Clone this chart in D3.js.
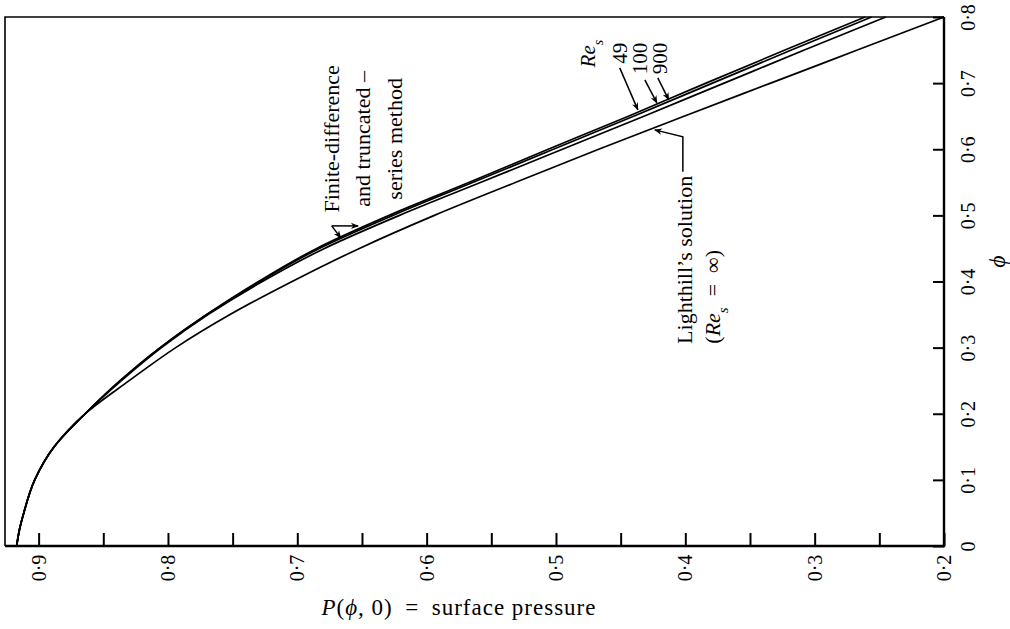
<!DOCTYPE html>
<html>
<head>
<meta charset="utf-8">
<script src="https://cdn.jsdelivr.net/npm/d3@7"></script>
<style>
  body { margin: 0; background: #fff; }
  text { font-family: "Liberation Serif", "DejaVu Serif", serif; fill: #000; }
</style>
</head>
<body>
<svg id="chart"></svg>
<script>
// phi values (right axis) and surface pressure P(phi, 0) for each curve
const phi        = [0, 0.025, 0.05, 0.1, 0.15, 0.2, 0.25, 0.3, 0.35, 0.4, 0.45, 0.5, 0.55, 0.6, 0.65, 0.7, 0.75, 0.8];
const pLighthill = [0.917, 0.9148, 0.9115, 0.903, 0.888, 0.864, 0.830, 0.794, 0.752, 0.704, 0.652, 0.594, 0.531, 0.467, 0.401, 0.334, 0.267, 0.200];
const pRe49      = [0.917, 0.9148, 0.9115, 0.903, 0.888, 0.864, 0.837, 0.806, 0.770, 0.730, 0.685, 0.629, 0.567, 0.506, 0.444, 0.384, 0.323, 0.261];
const pRe100     = [0.917, 0.9148, 0.9115, 0.903, 0.888, 0.864, 0.837, 0.806, 0.770, 0.729, 0.683, 0.626, 0.564, 0.502, 0.440, 0.379, 0.318, 0.256];
const pRe900     = [0.917, 0.9148, 0.9115, 0.903, 0.888, 0.864, 0.836, 0.805, 0.769, 0.727, 0.679, 0.621, 0.558, 0.495, 0.432, 0.370, 0.308, 0.245];

const pTicks    = [0.9, 0.85, 0.8, 0.75, 0.7, 0.65, 0.6, 0.55, 0.5, 0.45, 0.4, 0.35, 0.3, 0.25, 0.2];
const pLabels   = [0.9, 0.8, 0.7, 0.6, 0.5, 0.4, 0.3, 0.2];
const phiTicks  = [0, 0.1, 0.2, 0.3, 0.4, 0.5, 0.6, 0.7, 0.8];

const width = 1010, height = 629;
const margin = {top: 17, right: 66, bottom: 83, left: 5};

const svg = d3.select('#chart')
  .attr('width', width)
  .attr('height', height);

// scales (P decreases to the right, phi increases upward)
const x = d3.scaleLinear()
  .domain([0.926, 0.2])
  .range([margin.left, width - margin.right]);
const y = d3.scaleLinear()
  .domain([0, 0.8])
  .range([height - margin.bottom, margin.top]);

const fmt = d => d === 0 ? '0' : d3.format('.1f')(d).replace('.', '·');

// frame: thin left/top, heavier right/bottom
const x0 = x(0.926), x1 = x(0.2), yb = y(0), yt = y(0.8);
svg.append('path')
  .attr('d', `M${x0},${yb}L${x0},${yt}L${x1},${yt}`)
  .attr('fill', 'none').attr('stroke', '#000').attr('stroke-width', 1.6);
svg.append('path')
  .attr('d', `M${x0},${yb}L${x1},${yb}L${x1},${yt}`)
  .attr('fill', 'none').attr('stroke', '#000').attr('stroke-width', 2.4);

// bottom axis
const xAxis = svg.append('g')
  .attr('transform', `translate(0,${yb})`)
  .call(d3.axisBottom(x)
    .tickValues(pTicks)
    .tickSizeInner(-13)
    .tickSizeOuter(0)
    .tickFormat(d => pLabels.some(v => Math.abs(v - d) < 1e-9) ? fmt(d) : ''));
xAxis.select('.domain').remove();
xAxis.selectAll('line').attr('stroke', '#000').attr('stroke-width', 2);
xAxis.selectAll('text')
  .attr('y', 0)
  .attr('dy', '0.33em')
  .attr('transform', 'translate(0,22) rotate(-90)')
  .attr('text-anchor', 'middle')
  .style('font-size', '20px')
  .style('font-family', '"Liberation Serif", serif');

// right axis
const yAxis = svg.append('g')
  .attr('transform', `translate(${x1},0)`)
  .call(d3.axisRight(y)
    .tickValues(phiTicks)
    .tickSizeInner(-11)
    .tickSizeOuter(0)
    .tickFormat(fmt));
yAxis.select('.domain').remove();
yAxis.selectAll('line').attr('stroke', '#000').attr('stroke-width', 2);
yAxis.selectAll('text')
  .attr('x', 0)
  .attr('dy', '0.33em')
  .attr('transform', 'translate(24,0) rotate(-90)')
  .attr('text-anchor', 'middle')
  .style('font-size', '20px')
  .style('font-family', '"Liberation Serif", serif');

// axis titles
svg.append('text')
  .attr('x', x(0.575))
  .attr('y', yb + 69)
  .attr('text-anchor', 'middle')
  .style('font-size', '23px')
  .style('letter-spacing', '1px')
  .html('<tspan font-style="italic">P</tspan>(<tspan font-style="italic">ϕ</tspan>, 0)\u2002=\u2002surface pressure');

svg.append('text')
  .attr('transform', `translate(${x1 + 53},${y(0.43)}) rotate(-90)`)
  .attr('text-anchor', 'middle')
  .attr('dy', '0.33em')
  .style('font-size', '24px')
  .style('font-style', 'italic')
  .text('ϕ');

// curves
const line = d3.line()
  .x(d => x(d[0]))
  .y(d => y(d[1]))
  .curve(d3.curveMonotoneY);

const series = [pLighthill, pRe900, pRe100, pRe49];
svg.append('g')
  .selectAll('path')
  .data(series)
  .join('path')
    .attr('d', s => line(s.map((p, i) => [p, phi[i]])))
    .attr('fill', 'none')
    .attr('stroke', '#000')
    .attr('stroke-width', 1.7);

// annotations
svg.append('defs').append('marker')
  .attr('id', 'arr')
  .attr('viewBox', '0 0 10 10')
  .attr('refX', 9).attr('refY', 5)
  .attr('markerWidth', 8).attr('markerHeight', 8)
  .attr('markerUnits', 'userSpaceOnUse')
  .attr('orient', 'auto')
  .append('path')
    .attr('d', 'M0,1 L10,5 L0,9 L3,5 Z')
    .attr('fill', '#000');

const P = (p, f) => [x(p), y(f)];
const arrow = pts => svg.append('path')
  .attr('d', d3.line()(pts))
  .attr('fill', 'none')
  .attr('stroke', '#000')
  .attr('stroke-width', 1.5)
  .attr('marker-end', 'url(#arr)');

const rotText = (p, f, size, anchor) => svg.append('text')
  .attr('transform', `translate(${x(p)},${y(f)}) rotate(-90)`)
  .attr('text-anchor', anchor)
  .attr('dy', '0.33em')
  .style('font-size', size + 'px');

// Finite-difference label
rotText(0.6734, 0.6157, 22, 'middle').text('Finite-difference');
rotText(0.6494, 0.6157, 22, 'middle').text('and truncated –');
rotText(0.6247, 0.6157, 22, 'middle').text('series method');
arrow([P(0.6734, 0.4841), P(0.6664, 0.4660)]);
arrow([P(0.6734, 0.4841), P(0.6530, 0.4841)]);

// Re_s labels
rotText(0.4754, 0.7655, 21, 'end')
  .html('<tspan font-style="italic">Re</tspan><tspan font-style="italic" baseline-shift="sub" font-size="14">s</tspan>');
rotText(0.4507, 0.761, 21, 'end').text('49');
rotText(0.4352, 0.761, 21, 'end').text('100');
rotText(0.4197, 0.761, 21, 'end').text('900');
arrow([P(0.4507, 0.7231), P(0.4367, 0.6596)]);
arrow([P(0.4313, 0.7050), P(0.4220, 0.6700)]);
arrow([P(0.4213, 0.7080), P(0.4128, 0.6747)]);

// Lighthill label
arrow([P(0.4019, 0.5658), P(0.4019, 0.6188), P(0.4236, 0.6293)]);
rotText(0.4004, 0.5598, 22, 'end').text('Lighthill’s solution');
rotText(0.3787, 0.4478, 22, 'end')
  .html('(<tspan font-style="italic">Re</tspan><tspan font-style="italic" baseline-shift="sub" font-size="15">s</tspan>\u2002=\u2002∞)');
</script>
</body>
</html>
